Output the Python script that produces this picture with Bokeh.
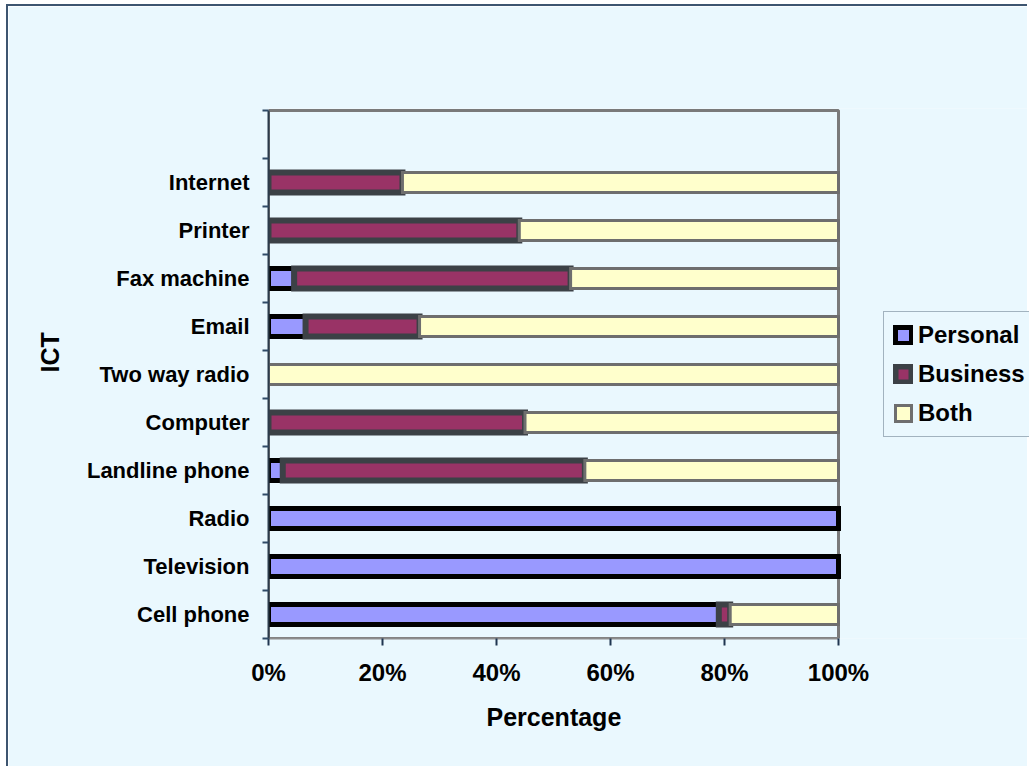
from bokeh.plotting import figure
from bokeh.models import (ColumnDataSource, FixedTicker, PrintfTickFormatter,
                          Legend, LegendItem, Range1d, BoxAnnotation, Title)
from bokeh.embed import file_html
from bokeh.resources import INLINE

# ICT usage split by purpose (percent of respondents), bottom to top
categories = ["Cell phone", "Television", "Radio", "Landline phone", "Computer",
              "Two way radio", "Email", "Fax machine", "Printer", "Internet"]
personal = [79, 100, 100, 2.5, 0, 0, 6.5, 4.5, 0, 0]
business = [2, 0, 0, 53, 45, 0, 20, 48.5, 44, 23.5]
both = [19, 0, 0, 44.5, 55, 100, 73.5, 47, 56, 76.5]
x_ticks = [0, 20, 40, 60, 80, 100]

BG = "#EAF8FE"
FONT = "Liberation Sans"
n = len(categories)

# layout: the frame runs to the right edge so the legend can sit beside the bars
FIG_W, FIG_H = 1021, 762
LEFT, TOP, BOTTOM = 260, 102, 130
SCALE_PX = 570                      # pixels covering 0..100 %
SLOT_PX = 48                        # pixels per category slot
frame_w = FIG_W - LEFT
x_end = frame_w / SCALE_PX * 100
y_pad = 2 / SLOT_PX                 # room so the top border is not cut by the frame

p = figure(width=FIG_W, height=FIG_H,
           x_range=Range1d(0, x_end), y_range=Range1d(-0.5, n + 0.5 + y_pad),
           output_backend="svg", toolbar_location=None,
           min_border_left=LEFT, min_border_right=0,
           min_border_top=TOP, min_border_bottom=BOTTOM)
p.styles = {"margin-left": "6px", "margin-top": "4px",
            "border-left": "2px solid #3D5570", "border-top": "2px solid #3D5570"}

p.background_fill_color = BG
p.border_fill_color = BG
p.outline_line_color = None
p.xgrid.visible = False
p.ygrid.visible = False

# plot-area border around the 0..100 % region, beneath the bars
p.add_layout(BoxAnnotation(left=0, right=100, bottom=-0.5, top=n + 0.5,
                           fill_alpha=0, line_color="#7A7A7A", line_alpha=1,
                           line_width=3, level="underlay"))

series = [
    ("Personal", personal, "#9999FF", "#000000", 5),
    ("Business", business, "#993366", "#3C4146", 6),
    ("Both", both, "#FFFFCC", "#6E6E6E", 3),
]

cum = [0.0] * n
items = []
for name, vals, fill, line, lw in series:
    rows = [i for i, v in enumerate(vals) if v > 0]
    src = ColumnDataSource(dict(
        y=[i for i in rows],
        left=[cum[i] for i in rows],
        right=[cum[i] + vals[i] for i in rows],
    ))
    r = p.hbar(y="y", left="left", right="right", height=0.42, source=src,
               fill_color=fill, line_color=line, line_width=lw,
               line_join="miter")
    items.append(LegendItem(label=name, renderers=[r]))
    cum = [c + v for c, v in zip(cum, vals)]

# category axis: labels at bar centres, tick marks on the slot boundaries
p.yaxis.bounds = (-0.5, n + 0.5)
p.yaxis.ticker = FixedTicker(ticks=list(range(n)),
                             minor_ticks=[i - 0.5 for i in range(n + 2)])
p.yaxis.major_label_overrides = {i: c for i, c in enumerate(categories)}
p.yaxis.major_tick_out = 0
p.yaxis.major_tick_in = 0
p.yaxis.minor_tick_out = 6
p.yaxis.minor_tick_in = 0
p.yaxis.minor_tick_line_color = "#2F4A66"
p.yaxis.minor_tick_line_width = 2
p.yaxis.axis_line_color = "#2B3A4A"
p.yaxis.axis_line_width = 2
p.yaxis.major_label_text_font = FONT
p.yaxis.major_label_text_font_style = "bold"
p.yaxis.major_label_text_font_size = "22px"
p.yaxis.major_label_text_color = "black"
p.yaxis.major_label_standoff = 13

p.xaxis.bounds = (0, 100)
p.xaxis.ticker = FixedTicker(ticks=x_ticks, minor_ticks=[])
p.xaxis.formatter = PrintfTickFormatter(format="%d%%")
p.xaxis.major_tick_out = 7
p.xaxis.major_tick_in = 0
p.xaxis.major_tick_line_color = "#1F3550"
p.xaxis.major_tick_line_width = 2
p.xaxis.axis_line_color = "#8C8C8C"
p.xaxis.axis_line_width = 2
p.xaxis.major_label_text_font = FONT
p.xaxis.major_label_text_font_style = "bold"
p.xaxis.major_label_text_font_size = "24px"
p.xaxis.major_label_text_color = "black"
p.xaxis.major_label_standoff = 13

# axis titles as panel titles so they can be shifted along their axes
p.add_layout(Title(text="Percentage", align="left", offset=218, standoff=24,
                   text_font=FONT, text_font_style="bold",
                   text_font_size="25px", text_color="black"), "below")
p.add_layout(Title(text="ICT", align="left", offset=266, standoff=40,
                   text_font=FONT, text_font_style="bold",
                   text_font_size="25px", text_color="black"), "left")

legend = Legend(items=items, location=(615, 201))
legend.background_fill_color = BG
legend.background_fill_alpha = 1
legend.border_line_color = "#5A6E80"
legend.border_line_width = 1
legend.label_text_font = FONT
legend.label_text_font_style = "bold"
legend.label_text_font_size = "24px"
legend.label_text_color = "black"
legend.glyph_width = 20
legend.glyph_height = 20
legend.label_standoff = 5
legend.padding = 9
legend.spacing = 11
legend.margin = 0
p.add_layout(legend, "center")

open("out.html", "w").write(file_html(p, INLINE))
